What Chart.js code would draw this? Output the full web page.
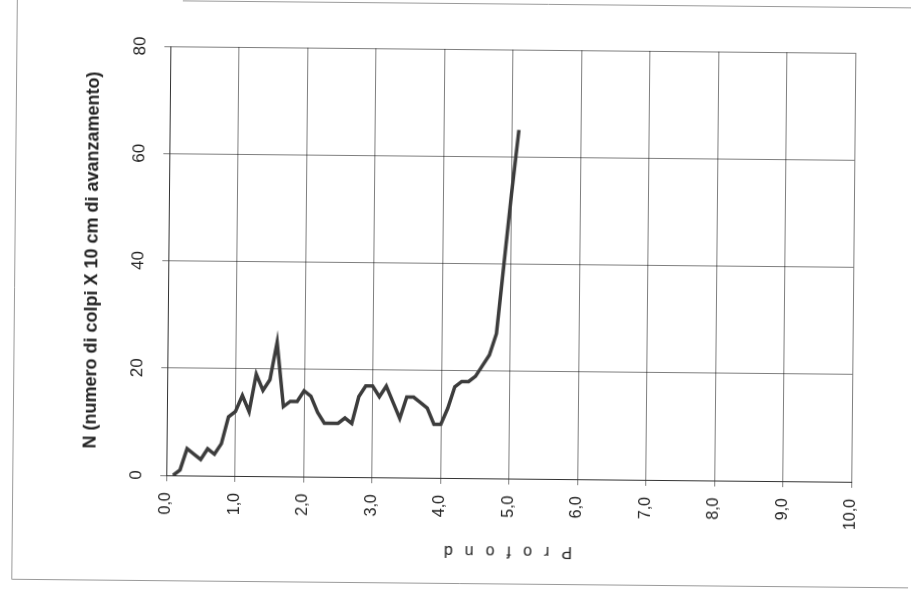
<!DOCTYPE html>
<html>
<head>
<meta charset="utf-8">
<script src="https://cdn.jsdelivr.net/npm/chart.js@4/dist/chart.umd.min.js"></script>
<style>
  html, body { margin: 0; padding: 0; background: #fff; overflow: hidden; }
  #wrap { width: 911px; height: 594px; transform: rotate(0.55deg); transform-origin: 455px 297px; }
  canvas { display: block; }
</style>
</head>
<body>
<div id="wrap"><canvas id="c" width="911" height="594"></canvas></div>
<script>
// Depth (m) and blow counts N per 10 cm of penetration
const depth = [0.1, 0.2, 0.3, 0.4, 0.5, 0.6, 0.7, 0.8, 0.9, 1.0,
               1.1, 1.2, 1.3, 1.4, 1.5, 1.6, 1.7, 1.8, 1.9, 2.0,
               2.1, 2.2, 2.3, 2.4, 2.5, 2.6, 2.7, 2.8, 2.9, 3.0,
               3.1, 3.2, 3.3, 3.4, 3.5, 3.6, 3.7, 3.8, 3.9, 4.0,
               4.1, 4.2, 4.3, 4.4, 4.5, 4.6, 4.7, 4.8, 4.9, 5.0, 5.1];
const blows = [0, 1, 5, 4, 3, 5, 4, 6, 11, 12,
               15, 12, 19, 16, 18, 25, 13, 14, 14, 16,
               15, 12, 10, 10, 10, 11, 10, 15, 17, 17,
               15, 17, 14, 11, 15, 15, 14, 13, 10, 10,
               13, 17, 18, 18, 19, 21, 23, 27, 40, 53, 65];
const xTicks = [0, 1, 2, 3, 4, 5, 6, 7, 8, 9, 10];
const yTicks = [0, 20, 40, 60, 80];
const xTitle = 'P r o f o n d';
const yTitle = 'N (numero di colpi X 10 cm di avanzamento)';

const points = depth.map((d, i) => ({ x: d, y: blows[i] }));

const framePlugin = {
  id: 'frame',
  beforeDraw(chart) {
    const ctx = chart.ctx;
    ctx.save();
    ctx.strokeStyle = '#9a9a9a';
    ctx.lineWidth = 1;
    ctx.beginPath();
    ctx.moveTo(180, 3.5); ctx.lineTo(911, 3.5);
    ctx.moveTo(14.5, 0); ctx.lineTo(14.5, 583.5);
    ctx.lineTo(911, 583.5);
    ctx.stroke();
    ctx.restore();
  },
  afterDraw(chart) {
    const ctx = chart.ctx;
    const area = chart.chartArea;
    ctx.save();
    ctx.translate((area.left + area.right) / 2 - 2, 550);
    ctx.rotate(Math.PI);
    ctx.font = '16px "Liberation Sans", Arial, sans-serif';
    ctx.fillStyle = '#222';
    ctx.textAlign = 'center';
    ctx.textBaseline = 'middle';
    try { ctx.letterSpacing = '3.8px'; } catch (e) {}
    ctx.fillText(xTitle, 0, 0);
    ctx.restore();
  }
};

new Chart(document.getElementById('c'), {
  type: 'line',
  data: {
    datasets: [{
      data: points,
      borderColor: '#3c3c3c',
      borderWidth: 3.5,
      pointRadius: 0,
      tension: 0,
      fill: false
    }]
  },
  options: {
    responsive: false,
    animation: false,
    devicePixelRatio: 1,
    layout: { padding: { left: 0, right: 58, top: 49, bottom: 0 } },
    plugins: { legend: { display: false }, tooltip: { enabled: false } },
    scales: {
      x: {
        type: 'linear',
        min: xTicks[0],
        max: xTicks[xTicks.length - 1],
        afterBuildTicks(scale) { scale.ticks = xTicks.map(v => ({ value: v })); },
        afterFit(scale) { scale.height = 116; },
        grid: { color: 'rgba(0,0,0,0.5)', lineWidth: 1, tickLength: 6, drawTicks: true },
        border: { color: '#333', width: 1 },
        ticks: {
          minRotation: 90, maxRotation: 90, padding: 11,
          color: '#222',
          font: { family: '"Liberation Sans", Arial, sans-serif', size: 16 },
          callback: v => v.toFixed(1).replace('.', ',')
        },
        title: { display: false }
      },
      y: {
        type: 'linear',
        min: yTicks[0],
        max: yTicks[yTicks.length - 1],
        afterBuildTicks(scale) { scale.ticks = yTicks.map(v => ({ value: v })); },
        afterFit(scale) { scale.width = 168; },
        grid: { color: 'rgba(0,0,0,0.5)', lineWidth: 1, tickLength: 6 },
        border: { color: '#333', width: 1 },
        ticks: {
          minRotation: 90, maxRotation: 90, padding: 14, crossAlign: 'center',
          color: '#222',
          font: { family: '"Liberation Sans", Arial, sans-serif', size: 17 },
          callback: v => String(v)
        },
        title: {
          display: true,
          text: yTitle,
          color: '#222',
          font: { family: '"Liberation Sans", Arial, sans-serif', size: 18, weight: 'bold' },
          padding: { top: 81, bottom: 0 }
        }
      }
    }
  },
  plugins: [framePlugin]
});
</script>
</body>
</html>
